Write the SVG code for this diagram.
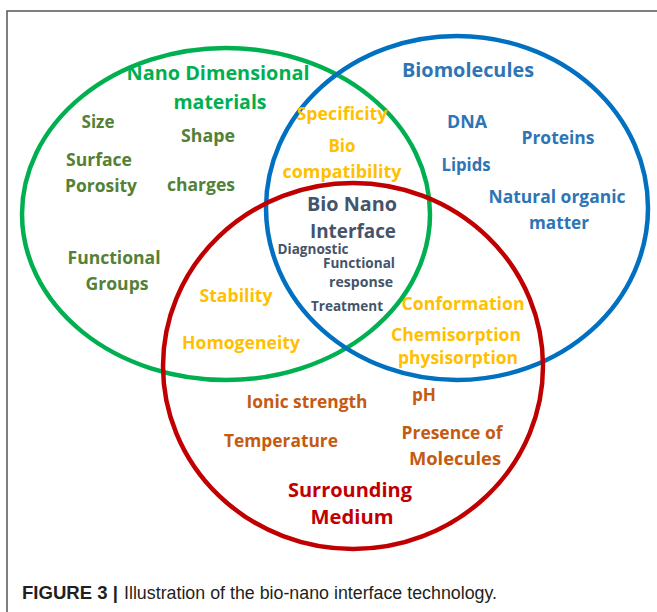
<svg xmlns="http://www.w3.org/2000/svg" width="657" height="612" viewBox="0 0 657 612">
<style>
.ring{fill:none;stroke-width:4.5}
.t{font-family:"Open Sans","Noto Sans",sans-serif;font-weight:700;text-anchor:middle}
.h{font-size:20px}
.i{font-size:18px}
.s{font-size:13.5px}
.gT{fill:#00B050}.gI{fill:#538135}.y{fill:#FFC000}.bI{fill:#2E75B6}.o{fill:#C55A11}.r{fill:#C00000}.c{fill:#44546A}
.cap{font-family:"Liberation Sans",Arial,sans-serif;font-size:18px;fill:#231F20}
</style>
<rect width="657" height="612" fill="#fff"/>
<path d="M7,612 V11 H657" fill="none" stroke="#555" stroke-width="1.5"/>
<g id="nano-materials">
<ellipse class="ring" cx="226" cy="214" rx="204" ry="166" stroke="#00B050"/>
<text class="t h gT" x="218" y="80" textLength="183" lengthAdjust="spacingAndGlyphs">Nano Dimensional</text>
<text class="t h gT" x="220" y="109" textLength="93" lengthAdjust="spacingAndGlyphs">materials</text>
<text class="t i gI" x="98" y="128" textLength="33" lengthAdjust="spacingAndGlyphs">Size</text>
<text class="t i gI" x="208" y="142" textLength="54" lengthAdjust="spacingAndGlyphs">Shape</text>
<text class="t i gI" x="99" y="166" textLength="66" lengthAdjust="spacingAndGlyphs">Surface</text>
<text class="t i gI" x="101" y="192" textLength="72" lengthAdjust="spacingAndGlyphs">Porosity</text>
<text class="t i gI" x="201" y="191" textLength="68" lengthAdjust="spacingAndGlyphs">charges</text>
<text class="t i gI" x="114" y="264" textLength="93" lengthAdjust="spacingAndGlyphs">Functional</text>
<text class="t i gI" x="117" y="290" textLength="63" lengthAdjust="spacingAndGlyphs">Groups</text>
</g>
<g id="biomolecules">
<ellipse class="ring" cx="457" cy="208" rx="191" ry="172" stroke="#0070C0"/>
<text class="t h bI" x="468" y="77" textLength="132" lengthAdjust="spacingAndGlyphs">Biomolecules</text>
<text class="t i bI" x="467" y="128" textLength="40" lengthAdjust="spacingAndGlyphs">DNA</text>
<text class="t i bI" x="558" y="144" textLength="73" lengthAdjust="spacingAndGlyphs">Proteins</text>
<text class="t i bI" x="466" y="171" textLength="49" lengthAdjust="spacingAndGlyphs">Lipids</text>
<text class="t i bI" x="557" y="203" textLength="137" lengthAdjust="spacingAndGlyphs">Natural organic</text>
<text class="t i bI" x="559" y="229" textLength="60" lengthAdjust="spacingAndGlyphs">matter</text>
</g>
<g id="surrounding-medium">
<ellipse class="ring" cx="353" cy="366" rx="190" ry="183" stroke="#C00000"/>
<text class="t i o" x="307" y="408" textLength="121" lengthAdjust="spacingAndGlyphs">Ionic strength</text>
<text class="t i o" x="424" y="401" textLength="24" lengthAdjust="spacingAndGlyphs">pH</text>
<text class="t i o" x="281" y="447" textLength="114" lengthAdjust="spacingAndGlyphs">Temperature</text>
<text class="t i o" x="452" y="439" textLength="101" lengthAdjust="spacingAndGlyphs">Presence of</text>
<text class="t i o" x="455" y="465" textLength="92" lengthAdjust="spacingAndGlyphs">Molecules</text>
<text class="t h r" x="350" y="497" textLength="124" lengthAdjust="spacingAndGlyphs">Surrounding</text>
<text class="t h r" x="352" y="524" textLength="83" lengthAdjust="spacingAndGlyphs">Medium</text>
</g>
<g id="nano-bio-overlap">
<text class="t i y" x="342" y="120" textLength="91" lengthAdjust="spacingAndGlyphs">Specificity</text>
<text class="t i y" x="342" y="152" textLength="27" lengthAdjust="spacingAndGlyphs">Bio</text>
<text class="t i y" x="342" y="178" textLength="119" lengthAdjust="spacingAndGlyphs">compatibility</text>
</g>
<g id="nano-medium-overlap">
<text class="t i y" x="236" y="302" textLength="73" lengthAdjust="spacingAndGlyphs">Stability</text>
<text class="t i y" x="241" y="349" textLength="118" lengthAdjust="spacingAndGlyphs">Homogeneity</text>
</g>
<g id="bio-medium-overlap">
<text class="t i y" x="463" y="310" textLength="123" lengthAdjust="spacingAndGlyphs">Conformation</text>
<text class="t i y" x="456" y="341" textLength="130" lengthAdjust="spacingAndGlyphs">Chemisorption</text>
<text class="t i y" x="458" y="364" textLength="120" lengthAdjust="spacingAndGlyphs">physisorption</text>
</g>
<g id="bio-nano-interface">
<text class="t h c" x="352" y="211" textLength="90" lengthAdjust="spacingAndGlyphs">Bio Nano</text>
<text class="t h c" x="353" y="238" textLength="86" lengthAdjust="spacingAndGlyphs">Interface</text>
<text class="t s c" x="313" y="254" textLength="71" lengthAdjust="spacingAndGlyphs">Diagnostic</text>
<text class="t s c" x="359" y="268" textLength="72" lengthAdjust="spacingAndGlyphs">Functional</text>
<text class="t s c" x="361" y="287" textLength="64" lengthAdjust="spacingAndGlyphs">response</text>
<text class="t s c" x="347" y="311" textLength="72" lengthAdjust="spacingAndGlyphs">Treatment</text>
</g>
<text class="cap" x="22" y="599" font-weight="700" textLength="96" lengthAdjust="spacingAndGlyphs">FIGURE 3 |</text>
<text class="cap" x="124" y="599" textLength="373" lengthAdjust="spacingAndGlyphs">Illustration of the bio-nano interface technology.</text>
</svg>
